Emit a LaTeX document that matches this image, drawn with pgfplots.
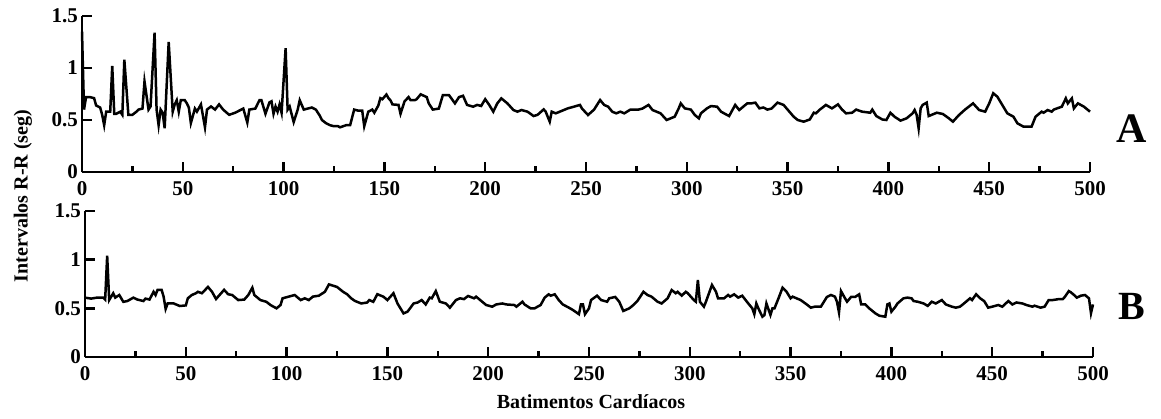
\documentclass[border=0pt]{standalone}
\usepackage{fontspec}
\setmainfont{Liberation Serif}
\usepackage{pgfplots}
\pgfplotsset{compat=1.18}
\begin{document}
\begin{tikzpicture}
\pgfplotsset{rrstyle/.style={
  scale only axis, width=504pt,
  xmin=0, xmax=500, ymin=0, ymax=1.5,
  axis x line=bottom, axis y line=left,
  axis line style={-, line width=1.3pt},
  tick align=inside,
  xtick={0,50,...,500}, minor x tick num=1,
  ytick={0,0.5,1,1.5},
  major tick length=5pt, minor tick length=3pt,
  every tick/.style={line width=1.2pt, black},
  /pgf/number format/assume math mode=true,
  ticklabel style={font=\fontsize{10.5}{12}\selectfont\bfseries},
  xticklabel style={yshift=-1.3pt},
  yticklabel style={xshift=1.5pt},
  clip=false,
}}
\begin{axis}[rrstyle, height=78pt, at={(41pt,123pt)}, anchor=south west]
\addplot[black, line width=1.25pt] coordinates {
(0,1.35)(1,0.60)(2,0.72)(4,0.72)(6,0.71)(7,0.64)(9,0.62)(10,0.55)(11,0.45)(12,0.58)(14,0.58)
(15,1.02)(16,0.56)(17,0.56)(19,0.58)(20,0.55)(21,1.08)(23,0.55)(25,0.55)(27,0.58)(28,0.60)
(30,0.61)(31,0.87)(33,0.60)(34,0.63)(36,1.34)(37,0.60)(38,0.45)(39,0.60)(40,0.57)(41,0.42)
(43,1.25)(45,0.58)(46,0.65)(47,0.69)(48,0.58)(49,0.69)(51,0.69)(52,0.66)(53,0.62)(54,0.47)
(56,0.61)(57,0.58)(59,0.65)(61,0.43)(62,0.60)(64,0.63)(66,0.60)(68,0.65)(70,0.60)(73,0.55)
(76,0.57)(79,0.60)(80,0.61)(82,0.475)(83,0.60)(86,0.61)(88,0.69)(89,0.69)(91,0.56)(93,0.67)
(94,0.68)(95,0.56)(96,0.63)(97,0.58)(98,0.65)(99,0.57)(101,1.19)(102,0.60)(103,0.63)(105,0.48)
(107,0.60)(108,0.69)(110,0.60)(112,0.61)(114,0.62)(116,0.60)(118,0.54)(119,0.50)(121,0.47)
(123,0.45)(125,0.44)(127,0.44)(128,0.43)(131,0.45)(133,0.45)(135,0.60)(137,0.59)(139,0.59)
(140,0.44)(142,0.58)(144,0.60)(145,0.57)(147,0.64)(148,0.71)(149,0.70)(151,0.745)(152,0.71)
(153,0.69)(154,0.65)(157,0.645)(158,0.56)(160,0.68)(162,0.72)(163,0.69)(165,0.69)(166,0.70)
(168,0.747)(171,0.72)(172,0.66)(174,0.60)(177,0.61)(179,0.74)(182,0.74)(185,0.66)(187,0.72)
(189,0.733)(191,0.645)(194,0.628)(196,0.645)(198,0.635)(200,0.70)(202,0.645)(204,0.58)
(206,0.66)(208,0.708)(211,0.66)(214,0.596)(216,0.58)(218,0.596)(221,0.58)(224,0.538)(226,0.55)
(229,0.602)(230,0.58)(232,0.484)(233,0.58)(235,0.564)(239,0.596)(241,0.612)(244,0.628)
(247,0.645)(248,0.61)(251,0.548)(254,0.60)(257,0.692)(259,0.645)(261,0.628)(263,0.58)
(265,0.564)(267,0.58)(269,0.564)(272,0.60)(276,0.60)(278,0.61)(281,0.645)(283,0.596)
(287,0.564)(290,0.50)(292,0.516)(294,0.532)(296,0.612)(297,0.66)(299,0.612)(302,0.60)
(304,0.548)(306,0.516)(307,0.564)(310,0.612)(312,0.634)(315,0.628)(317,0.58)(320,0.548)
(321,0.538)(324,0.645)(326,0.596)(328,0.628)(330,0.66)(332,0.66)(334,0.667)(336,0.612)
(338,0.62)(340,0.60)(342,0.61)(345,0.667)(348,0.645)(350,0.60)(353,0.532)(355,0.50)(358,0.484)
(361,0.505)(363,0.57)(364,0.564)(366,0.60)(369,0.645)(372,0.612)(375,0.65)(377,0.60)(379,0.564)
(382,0.57)(384,0.60)(387,0.58)(391,0.57)(392,0.60)(394,0.538)(397,0.505)(399,0.50)(401,0.57)
(403,0.532)(406,0.494)(409,0.516)(412,0.564)(413,0.596)(414,0.55)(415,0.42)(416,0.612)
(417,0.645)(419,0.667)(420,0.538)(424,0.57)(427,0.558)(430,0.516)(432,0.484)(435,0.548)
(438,0.60)(442,0.66)(445,0.596)(448,0.58)(450,0.66)(452,0.757)(454,0.725)(457,0.628)(459,0.564)
(462,0.532)(464,0.468)(467,0.436)(471,0.436)(473,0.532)(476,0.58)(477,0.57)(479,0.596)(481,0.58)
(482,0.60)(486,0.628)(488,0.708)(489,0.66)(491,0.708)(492,0.612)(494,0.66)(497,0.628)(500,0.58)
};
\end{axis}
\begin{axis}[rrstyle, height=73pt, at={(42.5pt,30.5pt)}, anchor=south west]
\addplot[black, line width=1.25pt] coordinates {
(0,0.61)(3,0.60)(6,0.61)(9,0.61)(10,0.59)(11,1.04)(12,0.585)(14,0.655)(15,0.61)(17,0.637)
(19,0.567)(21,0.575)(24,0.61)(26,0.59)(29,0.575)(30,0.60)(32,0.59)(34,0.67)(35,0.637)(36,0.69)
(38,0.69)(39,0.62)(40,0.494)(41,0.55)(44,0.55)(47,0.524)(50,0.53)(51,0.603)(53,0.637)(55,0.655)
(56,0.67)(58,0.655)(61,0.72)(63,0.67)(65,0.596)(69,0.69)(71,0.645)(73,0.637)(76,0.585)(79,0.59)
(81,0.637)(83,0.712)(84,0.637)(87,0.585)(90,0.567)(92,0.534)(95,0.50)(97,0.534)(98,0.603)
(101,0.62)(104,0.637)(107,0.585)(109,0.603)(111,0.585)(113,0.62)(116,0.63)(119,0.67)(121,0.746)
(123,0.733)(125,0.72)(128,0.67)(130,0.645)(132,0.603)(134,0.575)(137,0.55)(140,0.56)(141,0.585)
(143,0.567)(145,0.645)(148,0.62)(150,0.585)(153,0.655)(155,0.55)(158,0.448)(160,0.466)(163,0.55)
(165,0.56)(167,0.585)(169,0.54)(171,0.61)(172,0.603)(174,0.677)(176,0.568)(179,0.55)(181,0.507)
(184,0.585)(186,0.603)(188,0.595)(190,0.627)(193,0.603)(194,0.62)(197,0.568)(199,0.534)
(202,0.517)(204,0.54)(207,0.55)(209,0.54)(213,0.534)(214,0.517)(217,0.568)(218,0.54)(221,0.50)
(223,0.50)(226,0.534)(228,0.61)(230,0.644)(231,0.63)(233,0.644)(235,0.585)(237,0.54)(240,0.507)
(242,0.483)(245,0.44)(246,0.54)(247,0.54)(248,0.44)(250,0.50)(251,0.585)(254,0.63)(256,0.585)
(259,0.568)(260,0.603)(263,0.617)(265,0.568)(267,0.473)(270,0.50)(272,0.534)(274,0.575)
(277,0.67)(279,0.637)(281,0.62)(284,0.568)(286,0.55)(289,0.603)(291,0.688)(293,0.655)(294,0.67)
(296,0.63)(298,0.67)(299,0.655)(302,0.585)(303,0.568)(304,0.79)(305,0.568)(307,0.517)(308,0.568)
(311,0.74)(313,0.67)(314,0.603)(317,0.603)(319,0.637)(320,0.62)(322,0.644)(324,0.61)(326,0.63)
(329,0.55)(331,0.50)(332,0.44)(333,0.55)(334,0.50)(336,0.414)(337,0.43)(338,0.55)(340,0.432)
(341,0.50)(342,0.50)(344,0.603)(346,0.712)(348,0.67)(350,0.603)(351,0.62)(355,0.585)(358,0.54)
(360,0.507)(362,0.517)(365,0.517)(366,0.55)(368,0.617)(370,0.637)(372,0.62)(373,0.568)(374,0.458)
(375,0.677)(377,0.603)(378,0.568)(380,0.617)(382,0.617)(384,0.644)(385,0.54)(387,0.54)(389,0.50)
(392,0.449)(394,0.424)(397,0.414)(398,0.54)(399,0.55)(400,0.466)(402,0.517)(403,0.55)(406,0.603)
(408,0.61)(410,0.603)(411,0.575)(413,0.568)(416,0.55)(418,0.525)(420,0.568)(422,0.55)(425,0.585)
(427,0.54)(430,0.517)(432,0.507)(434,0.517)(436,0.55)(439,0.603)(440,0.585)(442,0.644)(444,0.603)
(446,0.575)(448,0.507)(450,0.517)(453,0.534)(455,0.517)(458,0.575)(460,0.54)(462,0.56)(465,0.55)
(467,0.534)(470,0.517)(471,0.527)(474,0.507)(476,0.517)(478,0.585)(480,0.585)(483,0.595)
(485,0.595)(486,0.617)(488,0.677)(489,0.665)(491,0.63)(492,0.61)(494,0.63)(496,0.637)(498,0.603)
(499,0.45)(500,0.54)
};
\end{axis}
\node[rotate=90, font=\fontsize{10}{12}\selectfont\bfseries] at (11.5pt,111pt) {Intervalos R-R (seg)};
\node[font=\fontsize{10}{12}\selectfont\bfseries] at (295.5pt,8pt) {Batimentos Cardíacos};
\node[font=\fontsize{21}{24}\selectfont\bfseries] at (566pt,144.5pt) {A};
\node[font=\fontsize{20}{24}\selectfont\bfseries] at (566pt,56pt) {B};
\pgfresetboundingbox
\path[use as bounding box] (0,0) rectangle (580.5pt,209pt);
\end{tikzpicture}
\end{document}
